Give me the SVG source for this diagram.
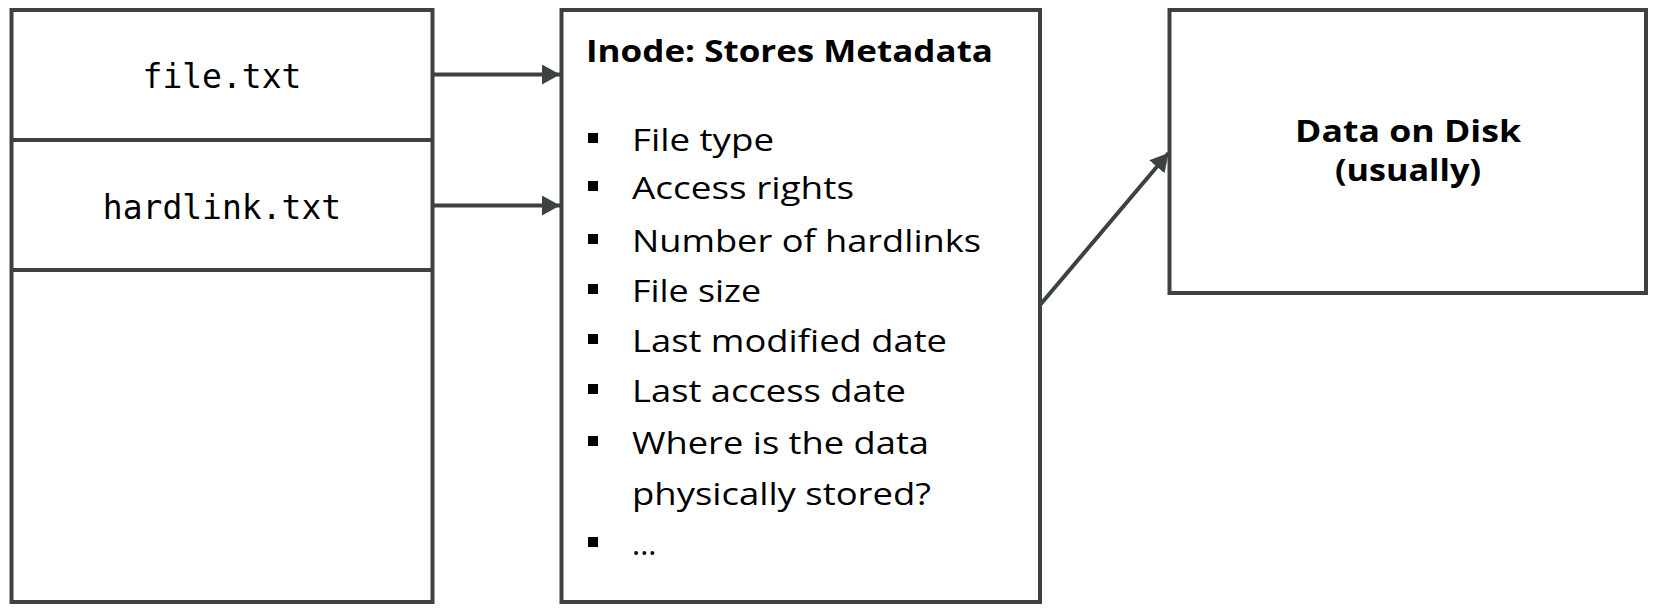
<svg xmlns="http://www.w3.org/2000/svg" width="1656" height="610" viewBox="0 0 1656 610">
<style>
.box{fill:#ffffff;stroke:#3c4144;stroke-width:4}
.conn{fill:none;stroke:#3c4144;stroke-width:4}
.mono{font-family:"DejaVu Sans Mono","Liberation Mono",monospace;font-size:33px;fill:#000;text-anchor:middle}
.title{font-family:"Open Sans","Noto Sans",sans-serif;font-size:31px;font-weight:bold;fill:#000}
.item{font-family:"Open Sans","Noto Sans",sans-serif;font-size:31px;fill:#000}
.bul{fill:#000}
</style>
<defs>
<marker id="ah" markerUnits="userSpaceOnUse" markerWidth="20" markerHeight="22" refX="18" refY="10" orient="auto">
<path d="M0,0 L18,10 L0,20 Z" fill="#3c4144"/>
</marker>
</defs>
<rect width="1656" height="610" fill="#ffffff"/>
<g id="dir">
<rect class="box" x="11.5" y="10" width="421" height="592"/>
<line class="conn" x1="11.5" y1="140" x2="432.5" y2="140"/>
<line class="conn" x1="11.5" y1="270" x2="432.5" y2="270"/>
<text class="mono" x="222" y="88">file.txt</text>
<text class="mono" x="222" y="219">hardlink.txt</text>
</g>
<g id="inode">
<rect class="box" x="561.5" y="10" width="478.5" height="592"/>
<text class="title" x="586" y="62" textLength="407" lengthAdjust="spacingAndGlyphs">Inode: Stores Metadata</text>
<rect class="bul" x="588" y="133" width="10" height="10"/>
<text class="item" x="632" y="151" textLength="142" lengthAdjust="spacingAndGlyphs">File type</text>
<rect class="bul" x="588" y="181" width="10" height="10"/>
<text class="item" x="632" y="199" textLength="222" lengthAdjust="spacingAndGlyphs">Access rights</text>
<rect class="bul" x="588" y="234" width="10" height="10"/>
<text class="item" x="632" y="252" textLength="349" lengthAdjust="spacingAndGlyphs">Number of hardlinks</text>
<rect class="bul" x="588" y="284" width="10" height="10"/>
<text class="item" x="632" y="302" textLength="129" lengthAdjust="spacingAndGlyphs">File size</text>
<rect class="bul" x="588" y="334" width="10" height="10"/>
<text class="item" x="632" y="352" textLength="315" lengthAdjust="spacingAndGlyphs">Last modified date</text>
<rect class="bul" x="588" y="384" width="10" height="10"/>
<text class="item" x="632" y="402" textLength="274" lengthAdjust="spacingAndGlyphs">Last access date</text>
<rect class="bul" x="588" y="436" width="10" height="10"/>
<text class="item" x="632" y="454" textLength="297" lengthAdjust="spacingAndGlyphs">Where is the data</text>
<text class="item" x="632" y="505" textLength="299" lengthAdjust="spacingAndGlyphs">physically stored?</text>
<rect class="bul" x="588" y="537" width="10" height="10"/>
<text class="item" x="632" y="555">...</text>
</g>
<g id="disk">
<rect class="box" x="1169.5" y="10" width="476.5" height="283"/>
<text class="title" x="1408" y="142" text-anchor="middle" font-size="26" textLength="226" lengthAdjust="spacingAndGlyphs">Data on Disk</text>
<text class="title" x="1408" y="181" text-anchor="middle" font-size="26" textLength="146" lengthAdjust="spacingAndGlyphs">(usually)</text>
</g>
<g id="connectors">
<line class="conn" x1="432.5" y1="74.5" x2="560" y2="74.5" marker-end="url(#ah)"/>
<line class="conn" x1="432.5" y1="205.5" x2="560" y2="205.5" marker-end="url(#ah)"/>
<line class="conn" x1="1040" y1="305" x2="1168.5" y2="153" marker-end="url(#ah)"/>
</g>
</svg>
